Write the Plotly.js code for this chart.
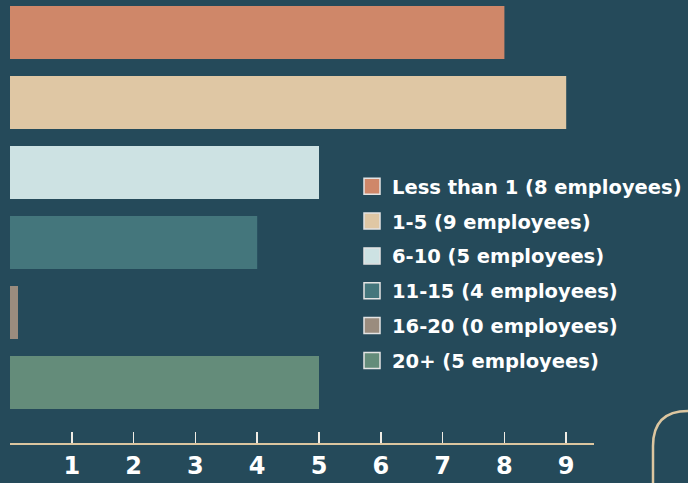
<!DOCTYPE html>
<html>
<head>
<meta charset="utf-8">
<script src="https://cdn.plot.ly/plotly-3.0.1.min.js"></script>
<style>html,body{margin:0;padding:0;background:#254a5a;}#chart{width:688px;height:483px;}</style>
</head>
<body>
<div id="chart"></div>
<script>
const categories = ["Less than 1", "1-5", "6-10", "11-15", "16-20", "20+"];
const employees = [8, 9, 5, 4, 0, 5];
const barLengths = [8, 9, 5, 4, 0.13, 5];
const colors = ["#cf8769", "#dfc7a4", "#cde2e3", "#44767c", "#9a8c7e", "#648c7a"];
const tickValues = [0, 1, 2, 3, 4, 5, 6, 7, 8, 9];
const tickLabels = ["", "1", "2", "3", "4", "5", "6", "7", "8", "9"];

const FONT = "DejaVu Sans, sans-serif";
const traces = [];
categories.forEach((c, i) => {
  traces.push({
    type: "bar", orientation: "h",
    x: [barLengths[i]], y: [i],
    width: 0.757,
    marker: {color: colors[i], line: {width: 0}},
    showlegend: false, legendgroup: "g" + i, hoverinfo: "skip"
  });
});
categories.forEach((c, i) => {
  traces.push({
    type: "scatter", mode: "markers",
    x: [null], y: [null],
    name: c + " (" + employees[i] + " employees)",
    marker: {symbol: "square", size: 16, color: colors[i], line: {color: "#e4e4e4", width: 1.5}},
    showlegend: true, legendgroup: "g" + i
  });
});

const L = 10, W = 584, T = 0, H = 443;
const px = v => (v - L) / W;
const py = v => (T + H - v) / H;

const layout = {
  width: 688, height: 483,
  margin: {l: L, r: 688 - L - W, t: T, b: 483 - T - H, pad: 0, autoexpand: false},
  paper_bgcolor: "#254a5a", plot_bgcolor: "#254a5a",
  barmode: "overlay",
  showlegend: true,
  legend: {
    x: px(352), y: py(167), xanchor: "left", yanchor: "top",
    font: {family: FONT, size: 19.5, color: "#ffffff", weight: 700},
    tracegroupgap: 6.5, bgcolor: "rgba(0,0,0,0)", itemclick: false
  },
  xaxis: {
    range: [0, W / 61.8], showgrid: false, zeroline: false,
    showline: true, linecolor: "#dcc6a0", linewidth: 2,
    tickmode: "array", tickvals: tickValues, ticktext: tickLabels,
    ticks: "inside", ticklen: 11, tickwidth: 1.5, tickcolor: "#f0ece4",
    tickfont: {family: FONT, size: 24, color: "#ffffff", weight: 700},
    fixedrange: true
  },
  yaxis: {
    range: [(H - 32.5) / 70, -32.5 / 70], showgrid: false, zeroline: false,
    showticklabels: false, ticks: "", showline: false, fixedrange: true
  },
  shapes: [{
    type: "path", xref: "paper", yref: "paper",
    path: "M " + px(653) + " " + py(490) + " L " + px(653) + " " + py(446) +
          " Q " + px(653) + " " + py(411) + " " + px(688) + " " + py(411) + " L " + px(700) + " " + py(411),
    line: {color: "#dcc6a0", width: 2.5}, layer: "above"
  }]
};

Plotly.newPlot("chart", traces, layout, {displayModeBar: false, staticPlot: true});
</script>
</body>
</html>
